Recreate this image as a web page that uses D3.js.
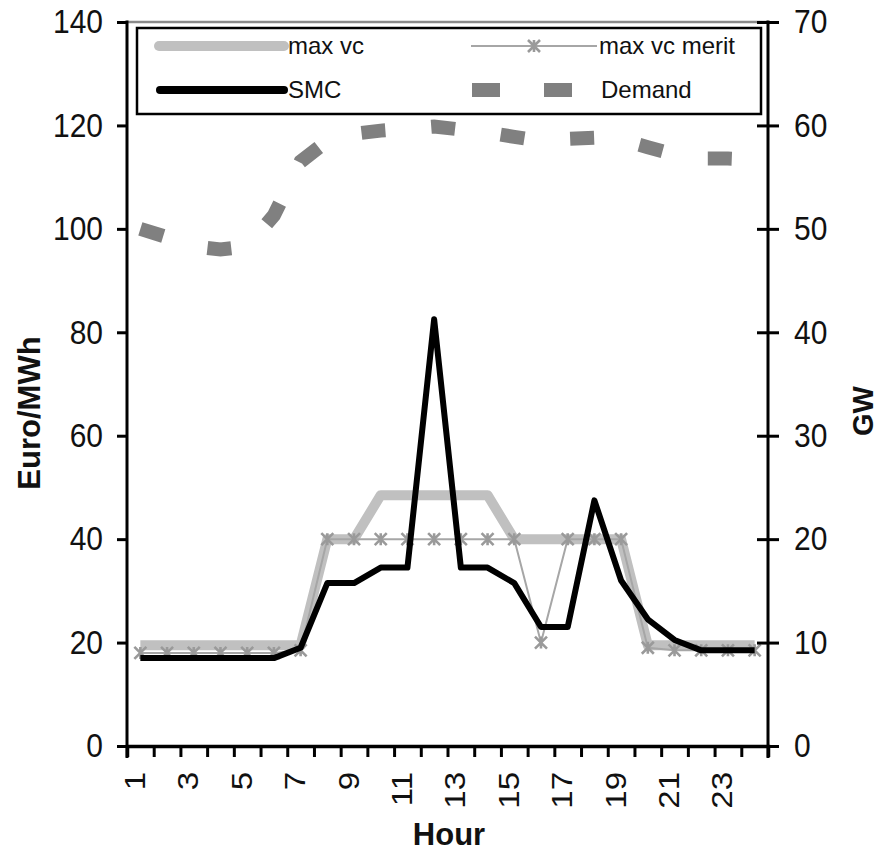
<!DOCTYPE html>
<html>
<head>
<meta charset="utf-8">
<script src="https://cdn.jsdelivr.net/npm/d3@7"></script>
<style>
  html, body { margin: 0; padding: 0; background: #fff; }
  svg text { font-family: "Liberation Sans", Arial, sans-serif; fill: #111; }
</style>
</head>
<body>
<svg id="chart" width="880" height="854"></svg>
<script>
const hours = [1, 2, 3, 4, 5, 6, 7, 8, 9, 10, 11, 12, 13, 14, 15, 16, 17, 18, 19, 20, 21, 22, 23, 24];
const hourLabels = [1, 3, 5, 7, 9, 11, 13, 15, 17, 19, 21, 23];
const maxVc = [19.5, 19.5, 19.5, 19.5, 19.5, 19.5, 19.5, 40, 40, 48.5, 48.5, 48.5, 48.5, 48.5, 40, 40, 40, 40, 40, 19.5, 19.5, 19.5, 19.5, 19.5];
const maxVcMerit = [18, 18, 18, 18, 18, 18, 18.5, 40, 40, 40, 40, 40, 40, 40, 40, 20, 40, 40, 40, 19, 18.5, 18.5, 18.5, 18.5];
const smc = [17, 17, 17, 17, 17, 17, 19, 31.5, 31.5, 34.5, 34.5, 82.5, 34.5, 34.5, 31.5, 23, 23, 47.5, 32, 24.5, 20.5, 18.5, 18.5, 18.5];
const demand = [50, 49.2, 48.3, 48, 48.3, 51.3, 56.5, 58.5, 59.2, 59.5, 59.7, 59.9, 59.6, 59.3, 58.9, 58.5, 58.7, 58.8, 58.6, 57.9, 57.2, 56.8, 56.8, 56.7];
const leftTicks = [0, 20, 40, 60, 80, 100, 120, 140];
const rightTicks = [0, 10, 20, 30, 40, 50, 60, 70];

const L = 127, R = 768, T = 22, B = 746;
const svg = d3.select("#chart");

const x = d3.scaleBand().domain(hours).range([L, R]).padding(0);
const xc = h => x(h) + x.bandwidth() / 2;
const xEdge = d3.scaleLinear().domain([0, 24]).range([L, R]);
const y = d3.scaleLinear().domain([0, 140]).range([B, T]);
const y2 = d3.scaleLinear().domain([0, 70]).range([B, T]);

// plot top border (gray)
svg.append("line")
    .attr("x1", L).attr("x2", R).attr("y1", T).attr("y2", T)
    .attr("stroke", "#8a8a8a").attr("stroke-width", 2.5);

// lines
const line = (ys, sc) => d3.line().x((d, i) => xc(hours[i])).y(d => sc(d))(ys);

svg.append("path").attr("d", line(maxVc, y))
    .attr("fill", "none").attr("stroke", "#c0c0c0").attr("stroke-width", 10)
    .attr("stroke-linejoin", "round");

svg.append("path").attr("d", line(maxVcMerit, y))
    .attr("fill", "none").attr("stroke", "#a6a6a6").attr("stroke-width", 2);

const star = "M-6,-6L6,6M-6,6L6,-6M0,-6L0,6";
svg.append("g").selectAll("path").data(maxVcMerit).join("path")
    .attr("d", star)
    .attr("transform", (d, i) => `translate(${xc(hours[i])},${y(d)})`)
    .attr("fill", "none").attr("stroke", "#9a9a9a").attr("stroke-width", 2.6);

svg.append("path").attr("d", line(smc, y))
    .attr("fill", "none").attr("stroke", "#000").attr("stroke-width", 6)
    .attr("stroke-linejoin", "round");

svg.append("path").attr("d", line(demand, y2))
    .attr("fill", "none").attr("stroke", "#808080").attr("stroke-width", 14)
    .attr("stroke-dasharray", "24,46");

// left axis
const gl = svg.append("g").attr("transform", `translate(${L},0)`)
    .call(d3.axisLeft(y).tickValues(leftTicks).tickSize(10).tickPadding(14));
gl.select(".domain").remove();
gl.selectAll("line").attr("stroke", "#000").attr("stroke-width", 3);
gl.selectAll("text").attr("font-size", 30).attr("fill", "#1a1a1a").attr("transform", "scale(1,1.12)");
svg.append("line").attr("x1", L).attr("x2", L).attr("y1", T - 1.5).attr("y2", B + 12)
    .attr("stroke", "#000").attr("stroke-width", 3);

// right axis
const gr = svg.append("g").attr("transform", `translate(${R},0)`)
    .call(d3.axisRight(y2).tickValues(rightTicks).tickSize(11).tickPadding(15));
gr.select(".domain").remove();
gr.selectAll("line").attr("x1", -11).attr("stroke", "#000").attr("stroke-width", 3);
gr.selectAll("text").attr("font-size", 30).attr("fill", "#1a1a1a").attr("transform", "scale(1,1.12)");
svg.append("line").attr("x1", R).attr("x2", R).attr("y1", T - 1.5).attr("y2", B + 12)
    .attr("stroke", "#000").attr("stroke-width", 3);

// bottom axis: ticks at category edges, labels at centres
const gb = svg.append("g").attr("transform", `translate(0,${B})`)
    .call(d3.axisBottom(xEdge).tickValues(d3.range(0, 25)).tickSize(11).tickFormat(""));
gb.select(".domain").attr("stroke", "#000").attr("stroke-width", 3.5);
gb.selectAll("line").attr("stroke", "#000").attr("stroke-width", 3);

svg.append("g").selectAll("text").data(hourLabels).join("text")
    .attr("transform", d => `translate(${xc(d) - 6},${B + 26}) rotate(-90) scale(1.1,1)`)
    .attr("text-anchor", "end").attr("dy", "0.35em")
    .attr("font-size", 30).attr("fill", "#1a1a1a")
    .text(d => d);

// axis titles
svg.append("text")
    .attr("transform", "translate(40,413) rotate(-90)")
    .attr("text-anchor", "middle").attr("font-size", 31).attr("font-weight", "bold")
    .attr("fill", "#222")
    .text("Euro/MWh");

svg.append("text")
    .attr("transform", "translate(873,411) rotate(-90)")
    .attr("text-anchor", "middle").attr("font-size", 29).attr("font-weight", "bold")
    .attr("fill", "#222")
    .text("GW");

svg.append("text")
    .attr("x", 449).attr("y", 845)
    .attr("text-anchor", "middle").attr("font-size", 31).attr("font-weight", "bold")
    .attr("fill", "#222")
    .text("Hour");

// legend
const lg = svg.append("g");
lg.append("rect").attr("x", 137).attr("y", 28).attr("width", 624).attr("height", 86)
    .attr("fill", "#fff").attr("stroke", "#000").attr("stroke-width", 2.5);

lg.append("line").attr("x1", 159).attr("x2", 284).attr("y1", 46).attr("y2", 46)
    .attr("stroke", "#c0c0c0").attr("stroke-width", 10).attr("stroke-linecap", "round");
lg.append("text").attr("x", 288).attr("y", 46).attr("dy", "0.35em").attr("font-size", 24).text("max vc");

lg.append("line").attr("x1", 160).attr("x2", 284).attr("y1", 90).attr("y2", 90)
    .attr("stroke", "#000").attr("stroke-width", 8).attr("stroke-linecap", "round");
lg.append("text").attr("x", 288).attr("y", 90).attr("dy", "0.35em").attr("font-size", 24).text("SMC");

lg.append("line").attr("x1", 471).attr("x2", 597).attr("y1", 46).attr("y2", 46)
    .attr("stroke", "#a6a6a6").attr("stroke-width", 2);
lg.append("path").attr("d", star).attr("transform", "translate(534,46)")
    .attr("fill", "none").attr("stroke", "#9a9a9a").attr("stroke-width", 2.6);
lg.append("text").attr("x", 599).attr("y", 46).attr("dy", "0.35em").attr("font-size", 24).text("max vc merit");

lg.append("line").attr("x1", 472).attr("x2", 572).attr("y1", 90).attr("y2", 90)
    .attr("stroke", "#808080").attr("stroke-width", 14).attr("stroke-dasharray", "28,44");
lg.append("text").attr("x", 601).attr("y", 90).attr("dy", "0.35em").attr("font-size", 24).text("Demand");
</script>
</body>
</html>
